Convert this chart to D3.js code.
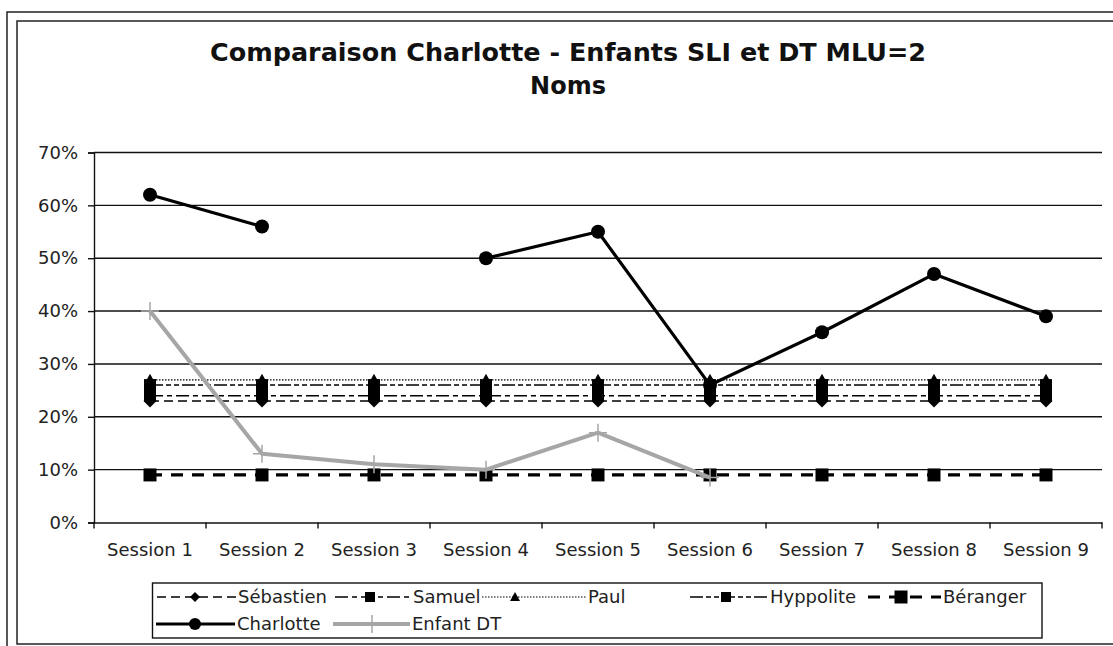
<!DOCTYPE html>
<html><head><meta charset="utf-8">
<script src="https://cdn.jsdelivr.net/npm/d3@7"></script>
<style>body{margin:0;background:#fff}svg{display:block}text{font-family:"DejaVu Sans",Verdana,sans-serif}</style>
</head><body><svg id="c" width="1113" height="646"></svg>
<script>
// ---- data ----
const categories = ["Session 1","Session 2","Session 3","Session 4","Session 5","Session 6","Session 7","Session 8","Session 9"];
const sebastien = [0.23,0.23,0.23,0.23,0.23,0.23,0.23,0.23,0.23];
const samuel    = [0.24,0.24,0.24,0.24,0.24,0.24,0.24,0.24,0.24];
const paul      = [0.27,0.27,0.27,0.27,0.27,0.27,0.27,0.27,0.27];
const hyppolite = [0.26,0.26,0.26,0.26,0.26,0.26,0.26,0.26,0.26];
const beranger  = [0.09,0.09,0.09,0.09,0.09,0.09,0.09,0.09,0.09];
const charlotte = [0.62,0.56,null,0.50,0.55,0.26,0.36,0.47,0.39];
const enfantDT  = [0.40,0.13,0.11,0.10,0.17,0.085,null,null,null];
const yTicks = [0,0.1,0.2,0.3,0.4,0.5,0.6,0.7];
const seriesNames = ["Sébastien","Samuel","Paul","Hyppolite","Béranger","Charlotte","Enfant DT"];
const titleLines = ["Comparaison Charlotte - Enfants SLI et DT MLU=2","Noms"];

// ---- styles (not data) ----
const styles = [
  {vals:sebastien, color:"#000", w:1.5, dash:"9,5", marker:"diamond", ms:13},
  {vals:samuel,    color:"#000", w:1.5, dash:"13,4,5,4", marker:"square", ms:12},
  {vals:paul,      color:"#000", w:1.2, dash:"1.5,1.5", marker:"triangle", ms:12},
  {vals:hyppolite, color:"#000", w:1.5, dash:"13,3,5,3,5,3", marker:"square", ms:12},
  {vals:beranger,  color:"#000", w:3.2, dash:"12,9", marker:"square", ms:13},
  {vals:charlotte, color:"#000", w:3.2, dash:null, marker:"circle", ms:14},
  {vals:enfantDT,  color:"#a6a6a6", w:4, dash:null, marker:"plus", ms:18}
];
const legendLayout = [
  {row:0, x0:157, x1:237, mx:195, tx:238},
  {row:0, x0:335, x1:411, mx:370, tx:413},
  {row:0, x0:482, x1:586, mx:515, tx:588},
  {row:0, x0:690, x1:768, mx:726, tx:770},
  {row:0, x0:868, x1:941, mx:901, tx:943},
  {row:1, x0:156, x1:235, mx:195, tx:237},
  {row:1, x0:333, x1:410, mx:372, tx:412}
];

const svg = d3.select("#c");
svg.append("rect").attr("width",1113).attr("height",646).attr("fill","#fff");
// double frame
svg.append("rect").attr("x",7).attr("y",12).attr("width",1120).attr("height",660).attr("fill","none").attr("stroke","#222").attr("stroke-width",1.5);
svg.append("rect").attr("x",17).attr("y",21).attr("width",1120).attr("height",623).attr("fill","none").attr("stroke","#222").attr("stroke-width",1.5);

// title
svg.append("text").attr("x",568).attr("y",61).attr("text-anchor","middle").attr("font-size",24).attr("font-weight","bold").attr("fill","#111")
  .attr("textLength",716).attr("lengthAdjust","spacingAndGlyphs").text(titleLines[0]);
svg.append("text").attr("x",568).attr("y",94).attr("text-anchor","middle").attr("font-size",24).attr("font-weight","bold").attr("fill","#111").text(titleLines[1]);

const x = d3.scaleBand().domain(categories).range([94,1102]);
const y = d3.scaleLinear().domain([0,0.7]).range([522.5,152.5]);
const cx = c => x(c) + x.bandwidth()/2;

// gridlines
svg.append("g").selectAll("line").data(yTicks.filter(t=>t>0)).join("line")
  .attr("x1",94).attr("x2",1102).attr("y1",d=>y(d)).attr("y2",d=>y(d))
  .attr("stroke","#111").attr("stroke-width",1.4);

// y axis
const ya = svg.append("g").attr("transform","translate(94,0)")
  .call(d3.axisLeft(y).tickValues(yTicks).tickFormat(d3.format(".0%")).tickSize(6).tickPadding(10));
ya.select(".domain").attr("stroke","#111").attr("stroke-width",1.4);
ya.selectAll(".tick line").attr("stroke","#111").attr("stroke-width",1.4);
ya.selectAll("text").attr("font-size",18).attr("fill","#222").attr("font-family","DejaVu Sans");

// x axis
const xa = svg.append("g").attr("transform","translate(0,522.5)")
  .call(d3.axisBottom(x).tickSize(0).tickPadding(21).tickSizeOuter(0));
xa.select(".domain").attr("stroke","#111").attr("stroke-width",1.4);
xa.selectAll("text").attr("font-size",18).attr("fill","#222").attr("font-family","DejaVu Sans");
svg.append("g").selectAll("line").data(categories.map(c=>x(c)).concat([x.range()[1]])).join("line")
  .attr("x1",d=>d).attr("x2",d=>d).attr("y1",522.5).attr("y2",528.5)
  .attr("stroke","#111").attr("stroke-width",1.4);

function markerPath(type, s){
  const h = s/2;
  if(type==="diamond") return `M0,${-h}L${h},0L0,${h}L${-h},0Z`;
  if(type==="square") return `M${-h},${-h}H${h}V${h}H${-h}Z`;
  if(type==="triangle") return `M0,${-h}L${h},${h*0.8}L${-h},${h*0.8}Z`;
  if(type==="plus") return `M${-h},0H${h}M0,${-h}V${h}`;
  return null;
}
function drawMarker(g, type, s, color, px, py){
  if(type==="circle"){
    g.append("circle").attr("cx",px).attr("cy",py).attr("r",s/2).attr("fill",color);
  } else if(type==="plus"){
    g.append("path").attr("d",markerPath(type,s)).attr("transform",`translate(${px},${py})`).attr("stroke",color).attr("stroke-width",1.5).attr("fill","none");
  } else {
    g.append("path").attr("d",markerPath(type,s)).attr("transform",`translate(${px},${py})`).attr("fill",color);
  }
}

const line = d3.line().defined(d=>d.v!==null).x(d=>cx(d.c)).y(d=>y(d.v));
styles.forEach((st,i)=>{
  const g = svg.append("g");
  const pts = categories.map((c,j)=>({c, v:st.vals[j]}));
  g.append("path").attr("d",line(pts)).attr("fill","none").attr("stroke",st.color)
    .attr("stroke-width",st.w).attr("stroke-dasharray",st.dash).attr("stroke-linejoin","round");
  pts.filter(p=>p.v!==null).forEach(p=>drawMarker(g, st.marker, st.ms, st.color, cx(p.c), y(p.v)));
});

// legend
svg.append("rect").attr("x",152.5).attr("y",583).attr("width",889.5).attr("height",55).attr("fill","#fff").attr("stroke","#111").attr("stroke-width",1.4);
const rowY = [597,624];
legendLayout.forEach((L,i)=>{
  const st = styles[i];
  const g = svg.append("g");
  const yy = rowY[L.row];
  g.append("line").attr("x1",L.x0).attr("x2",L.x1).attr("y1",yy).attr("y2",yy)
    .attr("stroke",st.color).attr("stroke-width",st.w).attr("stroke-dasharray",st.dash);
  const ms = st.marker==="circle" ? 12 : (st.marker==="plus"? 18 : (i===4 ? 13 : 10));
  drawMarker(g, st.marker, ms, st.color, L.mx, yy);
  g.append("text").attr("x",L.tx).attr("y",yy).attr("dy","0.35em").attr("font-size",18).attr("fill","#222").text(seriesNames[i]);
});
</script></body></html>
